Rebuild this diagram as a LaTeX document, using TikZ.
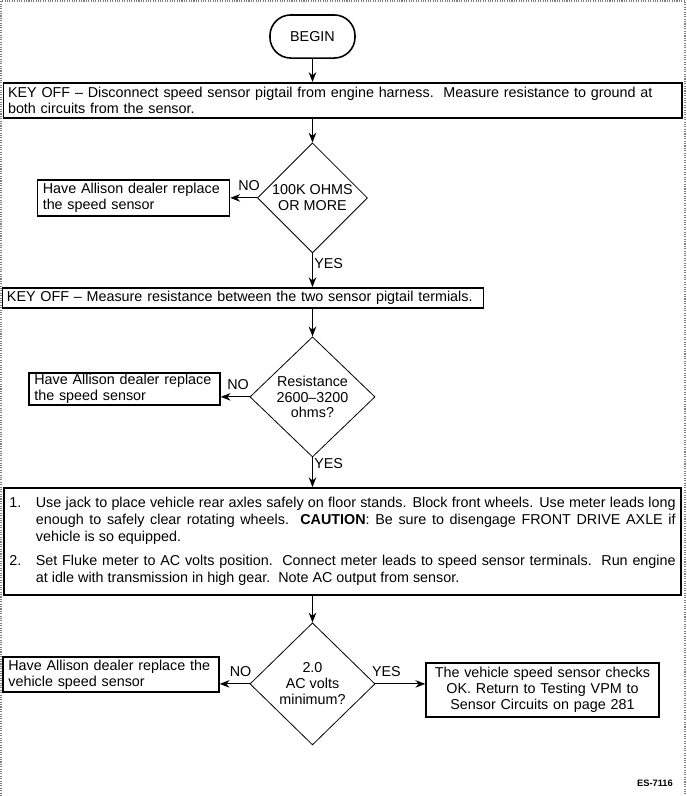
\documentclass[tikz,border=0pt]{standalone}
\usepackage{fontspec}
\setmainfont{Liberation Sans}
\usepackage{tikz}
\usetikzlibrary{shapes,arrows,arrows.meta}
\tikzset{>={Stealth[length=2.6mm,width=2mm]}}

\tikzstyle{start} = [rectangle, draw, line width=1.2pt, rounded corners=0.55cm,
    minimum width=2.25cm, minimum height=1.14cm]
\tikzstyle{wide} = [rectangle, draw, line width=1.2pt, align=left,
    inner xsep=3.4pt, inner ysep=1pt]
\tikzstyle{block} = [rectangle, draw, line width=1.2pt, align=left,
    inner xsep=4pt, inner ysep=1pt]
\tikzstyle{decision} = [diamond, draw, line width=0.6pt, inner sep=0pt, align=center]
\tikzstyle{line} = [draw, line width=0.8pt, ->]
\tikzstyle{answer} = [inner sep=1pt]

\begin{document}
\begin{tikzpicture}[node distance=2cm,
    every node/.style={font=\fontsize{10.8}{12}\selectfont}]
        \useasboundingbox (-8.268,0.966) rectangle (9.909,-20.095);
        % page frame
        \draw[gray, densely dotted, line width=0.8pt] (-8.242,-20.095) -- (-8.242,0.94)
            -- (9.856,0.94) -- (9.856,-20.095);

        \node[start] (begin) {BEGIN};
        \node[wide, node distance=1.69cm, below of=begin, xshift=0.8cm,
            text width=17.71cm, minimum height=0.93cm] (keyoff1)
            {KEY OFF -- Disconnect speed sensor pigtail from engine harness.\ \ Measure resistance to ground at\\both circuits from the sensor.};
        \node[decision, node distance=4.27cm, below of=begin,
            minimum width=2.91cm, minimum height=2.91cm] (ohms) {100K OHMS\\OR MORE};
        \node[block, node distance=4.736cm, left of=ohms,
            text width=4.8cm, minimum height=0.95cm] (dealer1)
            {Have Allison dealer replace\\the speed sensor};

        \node[wide, node distance=2.646cm, below of=ohms, xshift=-1.839cm,
            text width=12.49cm, minimum height=0.53cm] (keyoff2)
            {KEY OFF -- Measure resistance between the two sensor pigtail termials.};
        \node[decision, node distance=5.265cm, below of=ohms,
            minimum width=3.31cm, minimum height=3.18cm] (range) {Resistance\\2600--3200\\ohms?};
        \node[block, node distance=4.974cm, left of=range, yshift=0.212cm,
            text width=4.77cm, minimum height=0.79cm] (dealer2)
            {Have Allison dealer replace\\the speed sensor};

        \node[wide, node distance=3.823cm, below of=range, xshift=0.794cm,
            text width=17.63cm, inner xsep=4pt, align=justify, minimum height=2.83cm] (checks)
            {\parindent=0pt\fontsize{10.8}{12.75}\selectfont
            \hangindent=20pt\hangafter=1\makebox[20pt][l]{1.}Use jack to place vehicle rear axles safely on floor stands. Block front wheels. Use meter leads long\linebreak
            enough to safely clear rotating wheels.\ \ \textbf{CAUTION}: Be sure to disengage FRONT DRIVE AXLE if\linebreak
            vehicle is so equipped.\par\vspace{5pt}
            \hangindent=20pt\hangafter=1\makebox[20pt][l]{2.}Set Fluke meter to AC volts position.\ \ Connect meter leads to speed sensor terminals.\ \ Run engine\linebreak
            at idle with transmission in high gear.\ \ Note AC output from sensor.\par};
        \node[decision, node distance=7.594cm, below of=range,
            minimum width=3.31cm, minimum height=3.23cm] (volts) {2.0\\AC volts\\minimum?};
        \node[block, node distance=5.331cm, left of=volts, yshift=0.251cm,
            text width=5.43cm, minimum height=0.93cm] (dealer3)
            {Have Allison dealer replace the\\vehicle speed sensor};
        \node[block, node distance=6.085cm, right of=volts, yshift=-0.159cm, align=center,
            text width=5.88cm, minimum height=1.43cm] (done)
            {The vehicle speed sensor checks\\OK. Return to Testing VPM to\\Sensor Circuits on page 281};

        \node[font=\fontsize{7}{8}\selectfont\bfseries] (code) at (9.062,-19.751) {ES-7116};

        \path [line] (begin) -- (begin |- keyoff1.north);
        \path [line] (keyoff1.south -| ohms) -- (ohms);
        \path [line] (ohms) -- node[answer, above=4pt, pos=0.3] {NO} (dealer1);
        \path [line] (ohms) -- node[answer, right, pos=0.3] {YES} (ohms |- keyoff2.north);
        \path [line] (keyoff2.south -| range) -- (range);
        \path [line] (range.west) -- node[answer, above=4pt, pos=0.4] {NO} (range.west -| dealer2.east);
        \path [line] (range) -- node[answer, right, pos=0.2] {YES} (range |- checks.north);
        \path [line] (checks.south -| volts) -- (volts);
        \path [line] (volts.west) -- node[answer, above=4pt, pos=0.3] {NO} (volts.west -| dealer3.east);
        \path [line] (volts.east) -- node[answer, above=4pt, pos=0.22] {YES} (volts.east -| done.west);
    \end{tikzpicture}
\end{document}
